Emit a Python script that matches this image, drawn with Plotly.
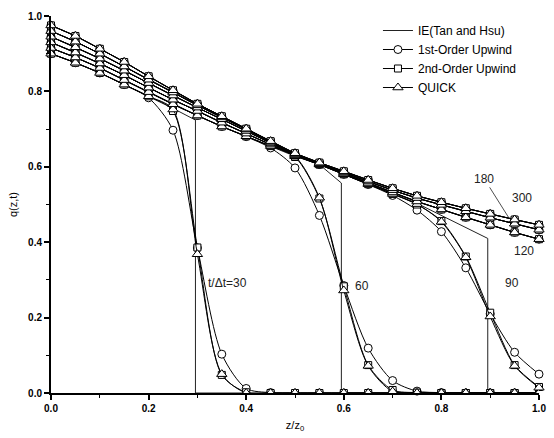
import plotly.graph_objects as go

# ---------------- data ----------------
Z = [0.00, 0.05, 0.10, 0.15, 0.20, 0.25, 0.30, 0.35, 0.40, 0.45, 0.50,
     0.55, 0.60, 0.65, 0.70, 0.75, 0.80, 0.85, 0.90, 0.95, 1.00]

TIMES = [30, 60, 90, 120, 180, 300]

# IE (Tan and Hsu) exact solution
IE_Z_30 = [0.00, 0.05, 0.10, 0.15, 0.20, 0.25, 0.296, 0.296, 1.00]
IE_Q_30 = [0.900, 0.876, 0.849, 0.818, 0.787, 0.755, 0.724, 0.0, 0.0]
IE_Z_60 = [0.00, 0.05, 0.10, 0.15, 0.20, 0.25, 0.30, 0.35, 0.40, 0.45, 0.50,
           0.55, 0.595, 0.595, 1.00]
IE_Q_60 = [0.915, 0.890, 0.862, 0.830, 0.798, 0.766, 0.736, 0.707, 0.681, 0.655, 0.628,
           0.606, 0.557, 0.0, 0.0]
IE_Z_90 = [0.00, 0.05, 0.10, 0.15, 0.20, 0.25, 0.30, 0.35, 0.40, 0.45, 0.50,
           0.55, 0.60, 0.65, 0.70, 0.75, 0.895, 0.895, 1.00]
IE_Q_90 = [0.930, 0.903, 0.874, 0.843, 0.810, 0.778, 0.748, 0.717, 0.688, 0.659, 0.630,
           0.606, 0.580, 0.554, 0.528, 0.503, 0.410, 0.0, 0.0]
IE_Q_120 = [0.945, 0.917, 0.887, 0.855, 0.822, 0.789, 0.757, 0.726, 0.695, 0.663, 0.632,
            0.607, 0.582, 0.557, 0.532, 0.508, 0.487, 0.466, 0.446, 0.426, 0.408]
IE_Q_180 = [0.960, 0.932, 0.900, 0.866, 0.831, 0.797, 0.763, 0.731, 0.699, 0.666, 0.634,
            0.609, 0.585, 0.561, 0.538, 0.517, 0.499, 0.482, 0.465, 0.449, 0.433]
IE_Q_300 = [0.975, 0.947, 0.913, 0.878, 0.840, 0.803, 0.767, 0.734, 0.701, 0.668, 0.636,
            0.611, 0.588, 0.565, 0.543, 0.523, 0.506, 0.490, 0.475, 0.460, 0.446]

# 1st-order upwind
UP1_30 = [0.900, 0.876, 0.849, 0.818, 0.783, 0.697, 0.385, 0.103, 0.012, 0.001, 0.0,
          0.0, 0.0, 0.0, 0.0, 0.0, 0.0, 0.0, 0.0, 0.0, 0.0]
UP1_60 = [0.915, 0.890, 0.862, 0.830, 0.798, 0.766, 0.736, 0.707, 0.680, 0.650, 0.597,
          0.471, 0.285, 0.119, 0.033, 0.005, 0.001, 0.0, 0.0, 0.0, 0.0]
UP1_90 = [0.930, 0.903, 0.874, 0.843, 0.810, 0.778, 0.748, 0.717, 0.688, 0.659, 0.630,
          0.606, 0.580, 0.553, 0.524, 0.485, 0.428, 0.332, 0.210, 0.108, 0.050]
UP1_120 = IE_Q_120
UP1_180 = IE_Q_180
UP1_300 = IE_Q_300

# 2nd-order upwind
UP2_30 = [0.900, 0.876, 0.849, 0.818, 0.787, 0.748, 0.386, 0.048, 0.002, 0.0, 0.0,
          0.0, 0.0, 0.0, 0.0, 0.0, 0.0, 0.0, 0.0, 0.0, 0.0]
UP2_60 = [0.915, 0.890, 0.862, 0.830, 0.798, 0.766, 0.736, 0.707, 0.681, 0.655, 0.626,
          0.516, 0.283, 0.074, 0.008, 0.001, 0.0, 0.0, 0.0, 0.0, 0.0]
UP2_90 = [0.930, 0.903, 0.874, 0.843, 0.810, 0.778, 0.748, 0.717, 0.688, 0.659, 0.630,
          0.606, 0.580, 0.554, 0.528, 0.500, 0.456, 0.362, 0.213, 0.074, 0.016]
UP2_120 = IE_Q_120
UP2_180 = IE_Q_180
UP2_300 = IE_Q_300

# QUICK
QK_30 = [0.900, 0.876, 0.849, 0.818, 0.787, 0.752, 0.368, 0.050, 0.000, 0.0, 0.0,
         0.0, 0.0, 0.0, 0.0, 0.0, 0.0, 0.0, 0.0, 0.0, 0.0]
QK_60 = [0.915, 0.890, 0.862, 0.830, 0.798, 0.766, 0.736, 0.707, 0.681, 0.655, 0.628,
         0.518, 0.272, 0.072, 0.004, 0.0, 0.0, 0.0, 0.0, 0.0, 0.0]
QK_90 = [0.930, 0.903, 0.874, 0.843, 0.810, 0.778, 0.748, 0.717, 0.688, 0.659, 0.630,
         0.606, 0.580, 0.554, 0.528, 0.501, 0.454, 0.360, 0.203, 0.072, 0.014]
QK_120 = IE_Q_120
QK_180 = IE_Q_180
QK_300 = IE_Q_300

X_TICKS = [0.0, 0.2, 0.4, 0.6, 0.8, 1.0]
Y_TICKS = [0.0, 0.2, 0.4, 0.6, 0.8, 1.0]

# ---------------- figure ----------------
FONT = "Arial, Liberation Sans, sans-serif"
fig = go.Figure()

ie_series = [(IE_Z_30, IE_Q_30), (IE_Z_60, IE_Q_60), (IE_Z_90, IE_Q_90),
             (Z, IE_Q_120), (Z, IE_Q_180), (Z, IE_Q_300)]
for t, (zx, qy) in zip(TIMES, ie_series):
    fig.add_trace(go.Scatter(
        x=zx, y=qy, mode="lines", name="IE(Tan and Hsu)",
        line=dict(color="#222", width=1),
        showlegend=(t == 300), hoverinfo="skip"))

methods = [
    ("1st-Order Upwind", "circle", 8, [UP1_30, UP1_60, UP1_90, UP1_120, UP1_180, UP1_300]),
    ("2nd-Order Upwind", "square", 7, [UP2_30, UP2_60, UP2_90, UP2_120, UP2_180, UP2_300]),
    ("QUICK", "triangle-up", 9, [QK_30, QK_60, QK_90, QK_120, QK_180, QK_300]),
]

for label, sym, size, series in methods:
    for t, vals in zip(TIMES, series):
        vis = [1 if v > 0.003 else 0 for v in vals]
        fig.add_trace(go.Scatter(
            x=Z, y=vals, mode="lines+markers", name=label,
            line=dict(color="black", width=1, shape="spline", smoothing=0.8),
            marker=dict(symbol=sym, size=size, color="white", opacity=vis,
                        line=dict(color="black", width=1)),
            cliponaxis=False, showlegend=(t == 300), hoverinfo="skip"))
        zx = [z for z, v in zip(Z, vals) if v <= 0.003]
        zy = [v for v in vals if v <= 0.003]
        if zx:
            fig.add_trace(go.Scatter(
                x=zx, y=zy, mode="markers", showlegend=False,
                marker=dict(symbol=sym, size=size, color="white",
                            line=dict(color="black", width=1)),
                cliponaxis=True, hoverinfo="skip"))

ann_font = dict(family=FONT, size=12, color="#222")
annotations = [
    dict(x=0.362, y=0.292, text="t/\u0394t=30", showarrow=False, font=ann_font),
    dict(x=0.638, y=0.284, text="60", showarrow=False, font=ann_font),
    dict(x=0.945, y=0.292, text="90", showarrow=False, font=ann_font),
    dict(x=0.970, y=0.376, text="120", showarrow=False, font=ann_font),
    dict(x=0.966, y=0.516, text="300", showarrow=False, font=ann_font),
    dict(x=0.939, y=0.463, ax=0.888, ay=0.568, axref="x", ayref="y",
         text="180", showarrow=True, arrowhead=0, arrowwidth=0.8,
         arrowcolor="#222", font=ann_font),
]

axis_common = dict(
    range=[0, 1], showgrid=False, zeroline=False,
    showline=True, linecolor="black", linewidth=2,
    ticks="outside", ticklen=5, tickwidth=1.5, tickcolor="black",
    minor=dict(ticks="outside", ticklen=3, tickwidth=1, tickcolor="black", dtick=0.1),
    tickfont=dict(family=FONT, size=10, color="black", weight="bold"),
    tickformat=".1f", mirror=False,
)

fig.update_layout(
    width=554, height=438,
    margin=dict(l=51, r=8, t=16, b=42),
    paper_bgcolor="white", plot_bgcolor="white",
    font=dict(family=FONT, color="black"),
    xaxis=dict(axis_common, tickvals=X_TICKS,
               title=dict(text="z/z<sub>0</sub>", font=dict(family=FONT, size=11), standoff=8)),
    yaxis=dict(axis_common, tickvals=Y_TICKS,
               title=dict(text="q(z,t)", font=dict(family=FONT, size=11), standoff=8)),
    legend=dict(x=0.67, y=1.0, xanchor="left", yanchor="top",
                bgcolor="rgba(0,0,0,0)", font=dict(family=FONT, size=12),
                itemwidth=30, tracegroupgap=0),
    annotations=annotations,
    showlegend=True,
)

fig.write_html(
    "out.html",
    post_script=(
        "document.body.style.margin='0px';document.body.style.overflow='hidden';"
        "var mb=document.querySelectorAll('.modebar-container');"
        "mb.forEach(function(m){m.style.display='none';});"
    ),
)
